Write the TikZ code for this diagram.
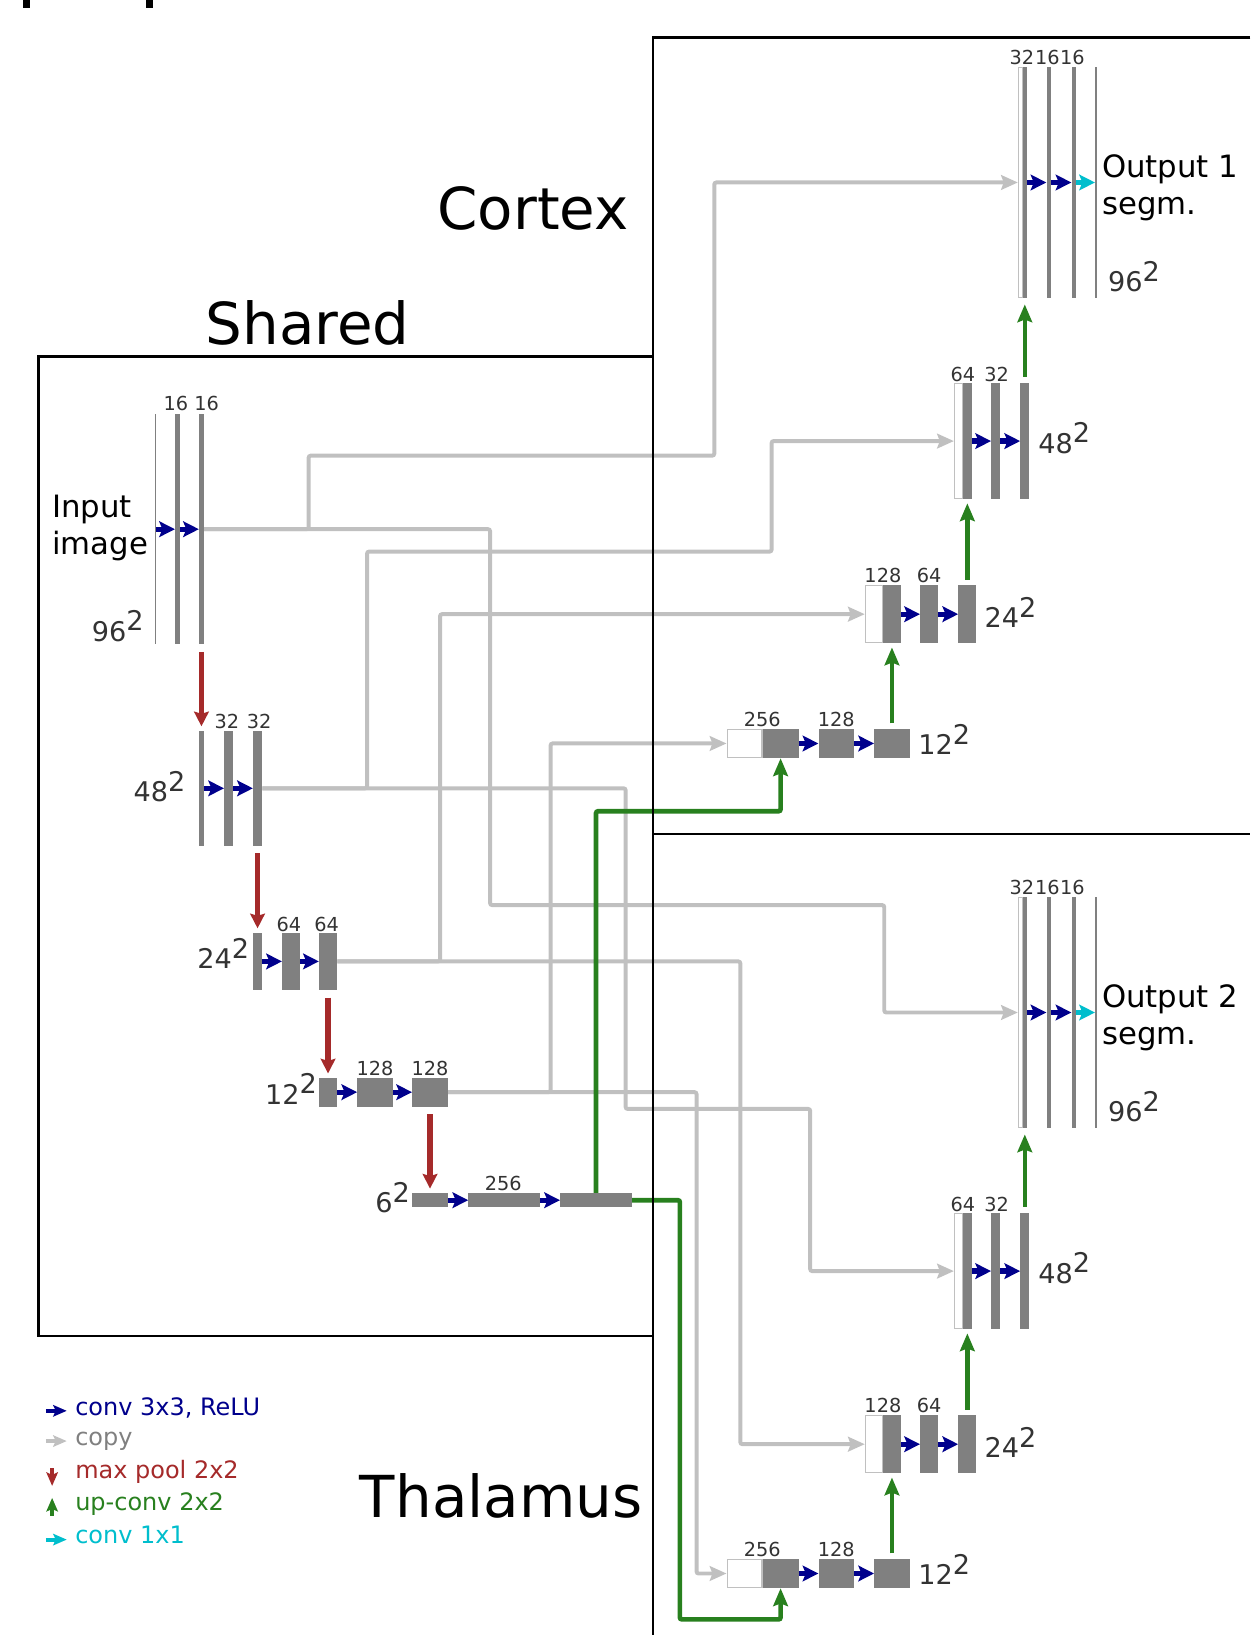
\documentclass[tikz,border=0pt]{standalone}
\usepackage{fontspec}
\setmainfont{DejaVu Sans}
\usetikzlibrary{arrows.meta}
\definecolor{convblue}{RGB}{0,0,140}
\definecolor{copygray}{RGB}{192,192,192}
\definecolor{poolred}{RGB}{165,42,42}
\definecolor{upgreen}{RGB}{40,128,30}
\definecolor{onecyan}{RGB}{0,190,205}
\definecolor{mapgray}{RGB}{128,128,128}
\definecolor{numgray}{RGB}{51,51,51}
\newcommand{\dimsq}[1]{#1\raisebox{10pt}{2}}

\begin{document}
\begin{tikzpicture}[
  x=1pt,y=-1pt,
  fmap/.style 2 args={fill=mapgray,inner sep=0pt,minimum width=#1pt,minimum height=#2pt},
  cat/.style 2 args={fill=white,draw=copygray,line width=1pt,inner sep=0pt,minimum width=#1pt-1pt,minimum height=#2pt-1pt},
  region/.style={draw=black,line width=2.4pt},
  title/.style={font=\fontsize{55.5}{60}\selectfont,inner sep=0pt},
  chlab/.style={font=\fontsize{18.5}{20}\selectfont,text=numgray,inner sep=0pt,anchor=base},
  dimlab/.style={font=\fontsize{26}{28}\selectfont,text=numgray,inner sep=0pt,anchor=base west},
  iolab/.style={font=\fontsize{29.5}{36}\selectfont,inner sep=0pt,anchor=base west,align=left},
  leg/.style={font=\fontsize{23}{25}\selectfont,inner sep=0pt,anchor=base west},
  conv/.style={draw=convblue,line width=5pt,-{Stealth[length=15pt,width=15pt,inset=3pt]}},
  oneconv/.style={conv,draw=onecyan},
  copyln/.style={draw=copygray,line width=3.8pt,rounded corners=2pt,-{Stealth[length=16pt,width=14pt,inset=2.5pt]}},
  pool/.style={draw=poolred,line width=5.5pt,-{Stealth[length=14pt,width=14pt,inset=2pt]}},
  upconv/.style={draw=upgreen,line width=4.5pt,rounded corners=2pt,-{Stealth[length=17pt,width=14pt,inset=2.5pt]}},
  legarrow/.style={line width=4pt,-{Stealth[length=13pt,width=11pt,inset=2.5pt]}}
]
\useasboundingbox (0,0) rectangle (1199,1568);
\fill (22,0) rectangle (29,8);
\fill (140,0) rectangle (147,8);

\node[title,anchor=base west] (shared) at (197,330) {Shared};
\node[title,anchor=base east] (cortex) at (603,220) {Cortex};
\node[title,anchor=base west] (thal) at (345,1455) {Thalamus};

% shared contracting path, 96^2 down to 6^2
\node[fmap={1.5}{221}] (in1) at (149,507.5) {};
\node[fmap={4.7}{221}] (e1a) at (170.3,507.5) {};
\node[fmap={4.6}{221}] (e1b) at (193.2,507.5) {};
\node[chlab] (n1a) at (168.7,394) {16};
\node[chlab] (n1b) at (198.2,394) {16};
\node[iolab] (inlab) at (50,532) {Input\\image};
\node[dimlab] (d1) at (88,615) {\dimsq{96}};
\draw[conv] (in1.east) -- (e1a.west);
\draw[conv] (e1a.east) -- (e1b.west);

\node[fmap={4.6}{110.5}] (e2a) at (193.2,756) {};
\node[fmap={8.6}{110.5}] (e2b) at (219.3,756) {};
\node[fmap={8.6}{110.5}] (e2c) at (247,756) {};
\node[chlab] (n2b) at (217.5,699) {32};
\node[chlab] (n2c) at (248.5,699) {32};
\node[dimlab] (d2) at (128,769) {\dimsq{48}};
\draw[conv] (e2a.east) -- (e2b.west);
\draw[conv] (e2b.east) -- (e2c.west);

\node[fmap={8.6}{55}] (e3a) at (247,922) {};
\node[fmap={17.3}{55}] (e3b) at (279.2,922) {};
\node[fmap={17.3}{55}] (e3c) at (314.6,922) {};
\node[chlab] (n3b) at (277,893) {64};
\node[chlab] (n3c) at (313.3,893) {64};
\node[dimlab] (d3) at (189,928.8) {\dimsq{24}};
\draw[conv] (e3a.east) -- (e3b.west);
\draw[conv] (e3b.east) -- (e3c.west);

\node[fmap={17.3}{27.5}] (e4a) at (314.6,1047.4) {};
\node[fmap={34}{27.5}] (e4b) at (359.7,1047.4) {};
\node[fmap={34.2}{27.5}] (e4c) at (412.4,1047.4) {};
\node[chlab] (n4b) at (359.7,1031) {128};
\node[chlab] (n4c) at (412.4,1031) {128};
\node[dimlab] (d4) at (254,1059) {\dimsq{12}};
\draw[conv] (e4a.east) -- (e4b.west);
\draw[conv] (e4b.east) -- (e4c.west);

\node[fmap={34.2}{13.8}] (e5a) at (412.4,1151) {};
\node[fmap={68.8}{13.8}] (e5b) at (483.6,1151) {};
\node[fmap={68.8}{13.8}] (e5c) at (571.6,1151) {};
\node[chlab] (n5b) at (482.7,1141.5) {256};
\node[dimlab] (d5) at (359.7,1163) {\dimsq{6}};
\draw[conv] (e5a.east) -- (e5b.west);
\draw[conv] (e5b.east) -- (e5c.west);

\draw[pool] ([yshift=-7pt]e1b.south) -- ([yshift=4pt]e2a.north);
\draw[pool] ([yshift=-7pt]e2c.south) -- ([yshift=4pt]e3a.north);
\draw[pool] ([yshift=-7pt]e3c.south) -- ([yshift=4pt]e4a.north);
\draw[pool] ([yshift=-7pt]e4c.south) -- ([yshift=4pt]e5a.north);

% two expanding paths: cortex (c) and thalamus (t)
\foreach \d/\dy/\n in {c/0/1,t/796/2}{
  \node[cat={34.5}{28}] (\d4w) at (714,713+\dy) {};
  \node[fmap={34.5}{28}] (\d4a) at (748.6,713+\dy) {};
  \node[fmap={34}{28}] (\d4b) at (802,713+\dy) {};
  \node[fmap={34}{28}] (\d4c) at (855.4,713+\dy) {};
  \node[chlab] (\d4n1) at (731,697+\dy) {256};
  \node[chlab] (\d4n2) at (802,697+\dy) {128};
  \node[dimlab] (\d4d) at (880.5,724+\dy) {\dimsq{12}};
  \draw[conv] (\d4a.east) -- (\d4b.west);
  \draw[conv] (\d4b.east) -- (\d4c.west);

  \node[cat={17.3}{55.5}] (\d3w) at (838,589+\dy) {};
  \node[fmap={17.3}{55.5}] (\d3a) at (855.4,589+\dy) {};
  \node[fmap={17.3}{55.5}] (\d3b) at (891.1,589+\dy) {};
  \node[fmap={17.3}{55.5}] (\d3c) at (927.7,589+\dy) {};
  \node[chlab] (\d3n1) at (846.7,559+\dy) {128};
  \node[chlab] (\d3n2) at (891,559+\dy) {64};
  \node[dimlab] (\d3d) at (944,602+\dy) {\dimsq{24}};
  \draw[conv] (\d3a.east) -- (\d3b.west);
  \draw[conv] (\d3b.east) -- (\d3c.west);

  \node[cat={8.6}{111}] (\d2w) at (919.1,423+\dy) {};
  \node[fmap={8.6}{111}] (\d2a) at (927.8,423+\dy) {};
  \node[fmap={8.6}{111}] (\d2b) at (954.9,423+\dy) {};
  \node[fmap={8.6}{111}] (\d2c) at (982.8,423+\dy) {};
  \node[chlab] (\d2n1) at (923.4,366+\dy) {64};
  \node[chlab] (\d2n2) at (955.7,366+\dy) {32};
  \node[dimlab] (\d2d) at (995.7,434.6+\dy) {\dimsq{48}};
  \draw[conv] (\d2a.east) -- (\d2b.west);
  \draw[conv] (\d2b.east) -- (\d2c.west);

  \node[cat={4.5}{221.5}] (\d1w) at (978.4,175+\dy) {};
  \node[fmap={4.5}{221.5}] (\d1a) at (982.9,175+\dy) {};
  \node[fmap={4.5}{221.5}] (\d1b) at (1005.9,175+\dy) {};
  \node[fmap={4.5}{221.5}] (\d1c) at (1029.9,175+\dy) {};
  \node[fmap={1.5}{221.5}] (\d1o) at (1051,175+\dy) {};
  \node[chlab] (\d1n1) at (980,61.4+\dy) {32};
  \node[chlab] (\d1n2) at (1004.5,61.4+\dy) {16};
  \node[chlab] (\d1n3) at (1028.5,61.4+\dy) {16};
  \node[iolab] (\d1t) at (1056.7,206+\dy) {Output \n\\segm.};
  \node[dimlab] (\d1d) at (1062.5,280+\dy) {\dimsq{96}};
  \draw[conv] (\d1a.east) -- (\d1b.west);
  \draw[conv] (\d1b.east) -- (\d1c.west);
  \draw[oneconv] (\d1c.east) -- (\d1o.west);

  \draw[upconv] ([yshift=5pt]\d4c.north) -- ([yshift=-4pt]\d4c.north |- \d3a.south);
  \draw[upconv] ([yshift=5pt]\d3c.north) -- ([yshift=-4pt]\d3c.north |- \d2a.south);
  \draw[upconv,line width=3.5pt] ([yshift=6pt]\d2c.north) -- ([yshift=-6pt]\d2c.north |- \d1a.south);
}

% skip connections
\coordinate (b1c) at (296,437);   \coordinate (b1cc) at (685,437);
\coordinate (b1t) at (470,868);   \coordinate (b1tt) at (848,868);
\coordinate (b2c) at (352,529);   \coordinate (b2cc) at (740,529);
\coordinate (b2t) at (600,1063.5); \coordinate (b2tt) at (777,1063.5);
\coordinate (b3c) at (422,589);   \coordinate (b3t) at (710,1385);
\coordinate (b4c) at (528,713);   \coordinate (b4t) at (668,1509);
\coordinate (g5c) at (571.6,778); \coordinate (g5t) at (652,1553);
\draw[copyln] (e1b.east) -| (b1c) -- (b1cc) |- (c1w.west);
\draw[copyln] (e1b.east) -| (b1t) -- (b1tt) |- (t1w.west);
\draw[copyln] (e2c.east) -| (b2c) -- (b2cc) |- (c2w.west);
\draw[copyln] (e2c.east) -| (b2t) -- (b2tt) |- (t2w.west);
\draw[copyln] (e3c.east) -| (b3c) -- (c3w.west);
\draw[copyln] (e3c.east) -| (b3t) -- (t3w.west);
\draw[copyln] (e4c.east) -| (b4c) -- (c4w.west);
\draw[copyln] (e4c.east) -| (b4t) -- (t4w.west);
\draw[upconv] (e5c.north) -- (g5c) -| (c4a.south);
\draw[upconv] (e5c.east) -| (g5t) -| (t4a.south);

% frames
\draw[region] (37,342) rectangle (626,1281);
\draw[region] (1199,36) -- (626,36) -- (626,1568);
\draw[region] (626,800) -- (1199,800);

% legend
\node[leg,text=convblue] (lg1) at (72,1357) {conv 3x3, ReLU};
\node[leg,text=mapgray] (lg2) at (72,1386) {copy};
\node[leg,text=poolred] (lg3) at (72,1418) {max pool 2x2};
\node[leg,text=upgreen] (lg4) at (72,1448.5) {up-conv 2x2};
\node[leg,text=onecyan] (lg5) at (72,1480.5) {conv 1x1};
\draw[conv,legarrow] ([xshift=-28pt,yshift=4pt]lg1.base west) -- ([xshift=-8pt,yshift=4pt]lg1.base west);
\draw[copyln,legarrow] ([xshift=-28pt,yshift=4pt]lg2.base west) -- ([xshift=-8pt,yshift=4pt]lg2.base west);
\draw[pool,legarrow] ([xshift=-22pt,yshift=10pt]lg3.base west) -- ([xshift=-22pt,yshift=-7pt]lg3.base west);
\draw[upconv,legarrow] ([xshift=-22pt,yshift=-5pt]lg4.base west) -- ([xshift=-22pt,yshift=12pt]lg4.base west);
\draw[oneconv,legarrow] ([xshift=-28pt,yshift=4pt]lg5.base west) -- ([xshift=-8pt,yshift=4pt]lg5.base west);
\end{tikzpicture}
\end{document}
